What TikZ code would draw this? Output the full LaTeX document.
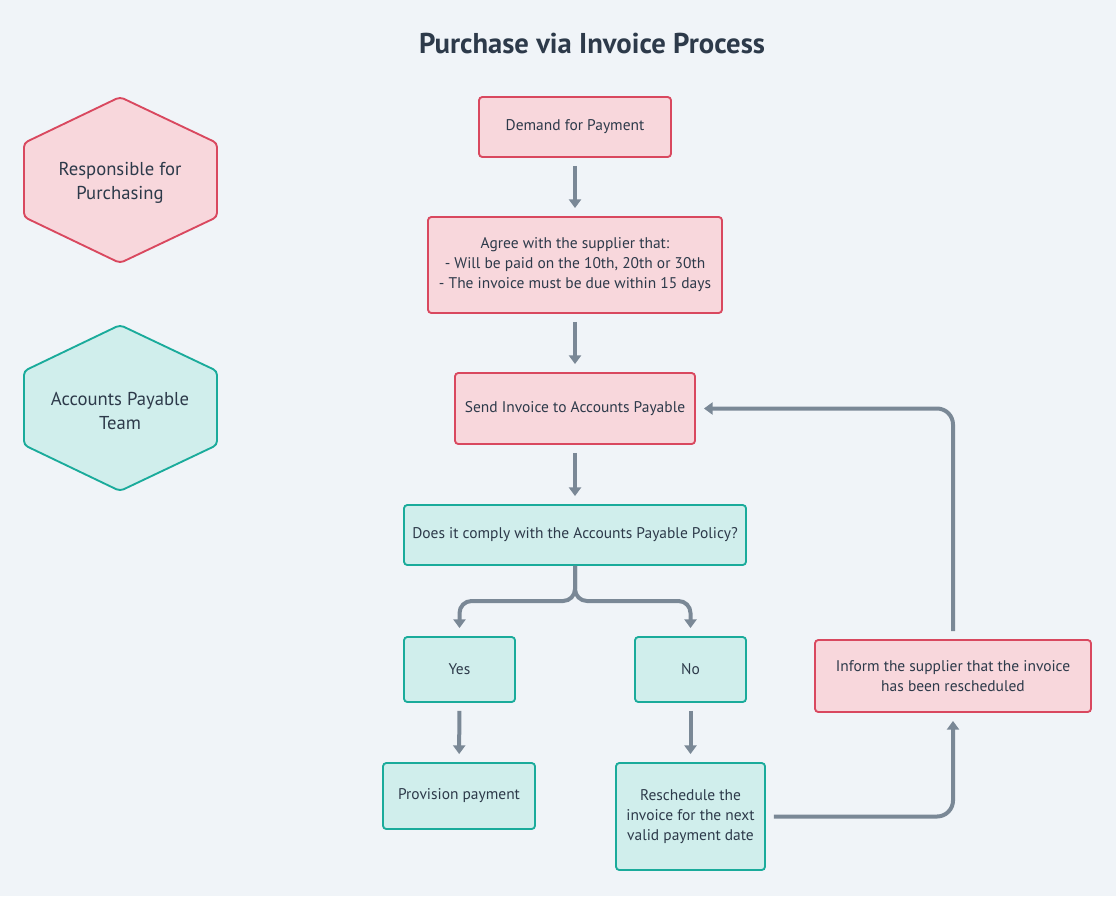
\documentclass[tikz,border=0pt]{standalone}
\usepackage{fontspec}
\setmainfont{PT Sans}
\usetikzlibrary{arrows.meta}
\definecolor{bg}{HTML}{F0F4F8}
\definecolor{txt}{HTML}{2D3A4A}
\definecolor{redS}{HTML}{D9485F}
\definecolor{redF}{HTML}{F8D7DC}
\definecolor{tealS}{HTML}{1AAB9B}
\definecolor{tealF}{HTML}{D0EEEC}
\definecolor{conn}{HTML}{7A8896}
\tikzset{
  base/.style={rectangle, rounded corners=2.5pt, line width=1.4pt, inner sep=2pt, align=center, text=txt, font=\fontsize{11.6}{15}\selectfont},
  redbox/.style={base, draw=redS, fill=redF},
  tealbox/.style={base, draw=tealS, fill=tealF},
  hexred/.style={draw=redS, fill=redF, line width=1.4pt, rounded corners=3pt},
  hexteal/.style={draw=tealS, fill=tealF, line width=1.4pt, rounded corners=3pt},
  hextext/.style={align=center, text=txt, font=\fontsize{14}{18}\selectfont},
  arr/.style={draw=conn, line width=3pt, -{Triangle[width=9pt,length=6.5pt]}},
  sh/.style={shorten <=6pt, shorten >=6pt},
}
\begin{document}
\begin{tikzpicture}[x=0.75pt,y=-0.75pt]
\useasboundingbox[fill=bg] (0,0) rectangle (1116,896);
\node[text=txt, font=\fontsize{21.5}{26}\selectfont\bfseries] (title) at (592,44) {Purchase via Invoice Process};
% hexagons
\draw[hexred] (120,97) -- (217,143) -- (217,217) -- (120,263) -- (24,217) -- (24,143) -- cycle;
\node[hextext] (h1) at (120,183) {Responsible for\\Purchasing};
\draw[hexteal] (120,325) -- (217,371) -- (217,445) -- (120,491) -- (24,445) -- (24,371) -- cycle;
\node[hextext] (h2) at (120,411) {Accounts Payable\\Team};
% boxes
\node[redbox, minimum width=144pt, minimum height=45pt] (demand) at (575,127) {Demand for Payment};
\node[redbox, minimum width=220.5pt, minimum height=72pt] (agree) at (575,265) {Agree with the supplier that:\\- Will be paid on the 10th, 20th or 30th\\- The invoice must be due within 15 days};
\node[redbox, minimum width=180pt, minimum height=53.25pt] (send) at (575,408.5) {Send Invoice to Accounts Payable};
\node[tealbox, minimum width=256.5pt, minimum height=45pt] (does) at (575,535) {Does it comply with the Accounts Payable Policy?};
\node[tealbox, minimum width=83.25pt, minimum height=48.75pt] (yes) at (459.5,669.5) {Yes};
\node[tealbox, minimum width=83.25pt, minimum height=48.75pt] (no) at (690.5,669.5) {No};
\node[tealbox, minimum width=114pt, minimum height=49.5pt] (prov) at (459,796) {Provision payment};
\node[tealbox, minimum width=111.75pt, minimum height=80.25pt] (resch) at (690.5,816.5) {Reschedule the\\invoice for the next\\valid payment date};
\node[redbox, minimum width=207pt, minimum height=54pt] (inform) at (953,676) {Inform the supplier that the invoice\\has been rescheduled};
% connectors
\draw[arr, sh] (demand) -- (agree);
\draw[arr, sh] (agree) -- (send);
\draw[arr, sh] (send) -- (does);
\coordinate (br) at (575,601);
\draw[arr, rounded corners=9pt, shorten >=6pt] (does.south) -- (br) -| (yes.north);
\draw[arr, rounded corners=9pt, shorten >=6pt] (does.south) -- (br) -| (no.north);
\draw[arr, sh] (yes) -- (prov);
\draw[arr, sh] (no) -- (resch);
\draw[arr, sh, rounded corners=12pt] (resch.east) -| (inform.south);
\draw[arr, sh, rounded corners=12pt] (inform.north) |- (send.east);
\end{tikzpicture}
\end{document}
